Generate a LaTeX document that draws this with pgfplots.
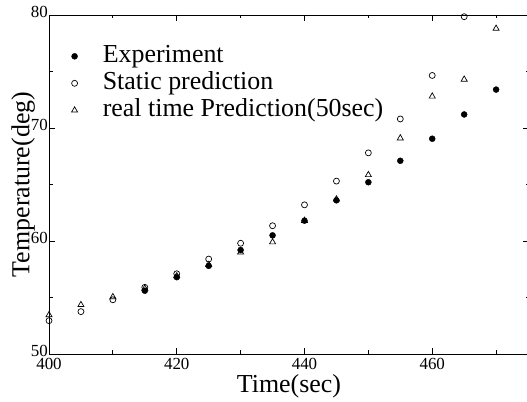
\documentclass[border=0pt]{standalone}
\usepackage{fontspec}
\setmainfont{Liberation Serif}
\usepackage{pgfplots}
\pgfplotsset{compat=1.18}
\begin{document}
\begin{tikzpicture}
\useasboundingbox (0,0) rectangle (527bp,402bp);
\begin{axis}[
  at={(49bp,48bp)}, anchor=south west,
  scale only axis, width=480bp, height=339bp,
  xmin=400, xmax=475.15, ymin=50, ymax=80,
  xtick={400,420,440,460}, ytick={50,60,70,80},
  minor xtick={410,430,450,470}, minor ytick={55,65,75},
  tick align=inside, major tick length=6bp, minor tick length=3.5bp,
  axis line style={line width=0.9bp}, tick style={line width=0.8bp, black},
  /pgf/number format/assume math mode=true,
  ticklabel style={font=\fontsize{17}{18}\selectfont},
  yticklabel style={anchor=east, inner sep=0pt, xshift=-1bp, yshift=3bp},
  xticklabel style={anchor=north, inner sep=0pt, yshift=-4bp},
  xlabel={Time(sec)}, ylabel={Temperature(deg)},
  label style={font=\fontsize{26}{28}\selectfont},
  xlabel style={at={(axis description cs:0.5,-0.059)}, anchor=north, inner sep=0pt},
  ylabel style={at={(axis description cs:-0.0407,0.5)}, anchor=base, inner sep=0pt},
  legend style={draw=none, fill=none, at={(axis description cs:0.039,0.92)}, anchor=north west,
    font=\fontsize{26}{27}\selectfont,
    nodes={inner sep=0pt, text height=18bp, text depth=6bp},
    row sep=3bp},
  legend cell align=left,
  legend image code/.code={\draw[#1] plot coordinates {(0bp,0bp)}; \path (-3.5bp,0bp) (28bp,0bp);},
]
\addplot[only marks, mark=*, mark size=3bp, black] coordinates {
(415,55.6) (420,56.8) (425,57.8) (430,59.2) (435,60.5) (440,61.8) (445,63.6)
(450,65.2) (455,67.1) (460,69.05) (465,71.2) (470,73.4)};
\addlegendentry{Experiment}
\addplot[only marks, mark=o, mark size=3bp, black, mark options={line width=0.7bp}] coordinates {
(400,52.95) (405,53.75) (410,54.8) (415,55.9) (420,57.1) (425,58.4) (430,59.8)
(435,61.35) (440,63.2) (445,65.3) (450,67.8) (455,70.8) (460,74.65) (465,79.85)};
\addlegendentry{Static prediction}
\addplot[only marks, mark=triangle, mark size=3.5bp, black, mark options={line width=0.7bp}] coordinates {
(400,53.45) (405,54.35) (410,55.05) (415,55.8) (420,56.9) (425,57.9) (430,59.0)
(435,59.9) (440,61.8) (445,63.7) (450,65.85) (455,69.1) (460,72.8) (465,74.3) (470,78.8)};
\addlegendentry{real time Prediction(50sec)}
\end{axis}
\end{tikzpicture}
\end{document}
